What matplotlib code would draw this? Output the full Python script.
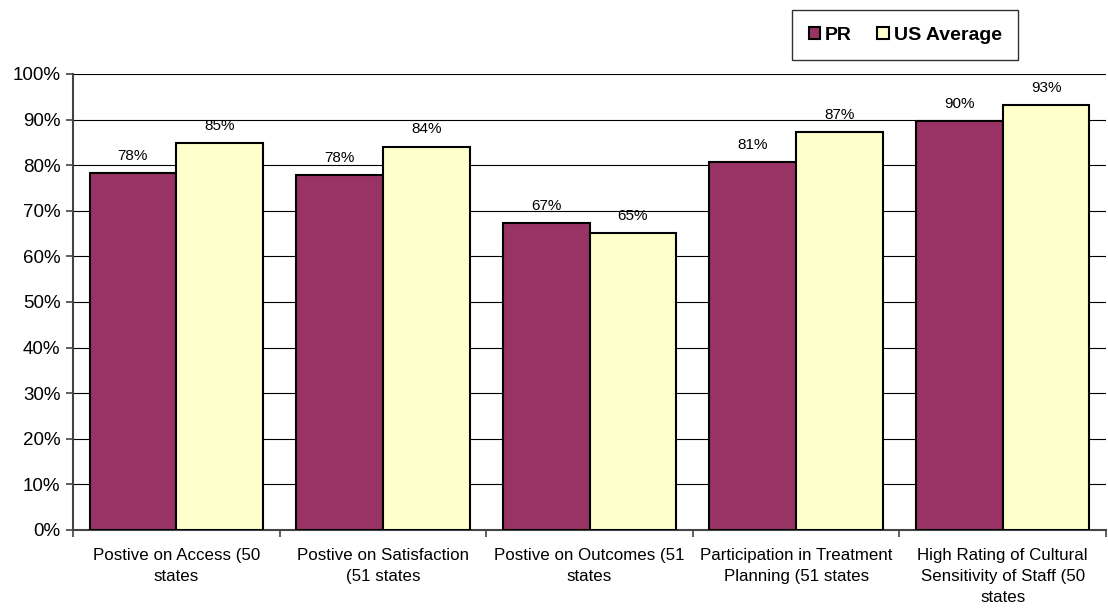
import matplotlib
matplotlib.use("Agg")
import matplotlib.pyplot as plt
import numpy as np

plt.rcParams['font.family'] = ['Liberation Sans', 'DejaVu Sans']

categories = ["Postive on Access (50\nstates", "Postive on Satisfaction\n(51 states",
              "Postive on Outcomes (51\nstates", "Participation in Treatment\nPlanning (51 states",
              "High Rating of Cultural\nSensitivity of Staff (50\nstates"]
pr_values = [78.3, 77.8, 67.4, 80.7, 89.6]
us_values = [84.8, 84.1, 65.2, 87.3, 93.1]
series_names = ["PR", "US Average"]
yticks = [0, 10, 20, 30, 40, 50, 60, 70, 80, 90, 100]

W, H = 1108, 611
fig = plt.figure(figsize=(W/100, H/100), dpi=100)
ax = fig.add_axes([73/W, 1-530/H, (1106-73)/W, (530-74)/H])

x = np.arange(len(categories))
bw = 0.42
b1 = ax.bar(x - bw/2, pr_values, bw, color="#993366", edgecolor="black", linewidth=1.5, label=series_names[0], zorder=3)
b2 = ax.bar(x + bw/2, us_values, bw, color="#FFFFCC", edgecolor="black", linewidth=1.5, label=series_names[1], zorder=3)

for bars, vals in ((b1, pr_values), (b2, us_values)):
    for r, v in zip(bars, vals):
        ax.text(r.get_x() + r.get_width()/2, v + 2.2, f"{round(v)}%", ha="center", va="bottom", fontsize=11, zorder=4)

ax.set_xlim(-0.5, len(categories) - 0.5)
ax.set_ylim(0, 100)
ax.set_yticks(yticks)
ax.set_yticklabels([f"{t}%" for t in yticks], fontsize=13.5)
ax.yaxis.grid(True, color="black", linewidth=0.8, zorder=0)
ax.set_axisbelow(True)

ax.set_xticks(np.arange(len(categories) + 1) - 0.5)
ax.set_xticklabels([])
ax.set_xticks(x, minor=True)
ax.set_xticklabels(categories, minor=True, fontsize=12.2, linespacing=1.5)
ax.tick_params(axis="x", which="minor", length=0, pad=13)
ax.tick_params(axis="x", which="major", length=5, width=1.2, color="#444444", direction="out")
ax.tick_params(axis="y", length=5, width=1.2, color="#444444", pad=4)

for s in ("top", "right"):
    ax.spines[s].set_visible(False)
for s in ("left", "bottom"):
    ax.spines[s].set_color("#444444")
    ax.spines[s].set_linewidth(1.5)

leg = fig.legend(handles=[b1, b2], labels=series_names, loc="upper left",
                 bbox_to_anchor=(792/W, 1-10/H), ncol=2, frameon=True, fancybox=False,
                 edgecolor="black", prop={"weight": "bold", "size": 14},
                 handlelength=0.6, handleheight=0.6, handletextpad=0.25, columnspacing=1.3,
                 borderpad=0.85, borderaxespad=0)
leg.get_frame().set_linewidth(1.0)

fig.savefig("out.png", dpi=100)
